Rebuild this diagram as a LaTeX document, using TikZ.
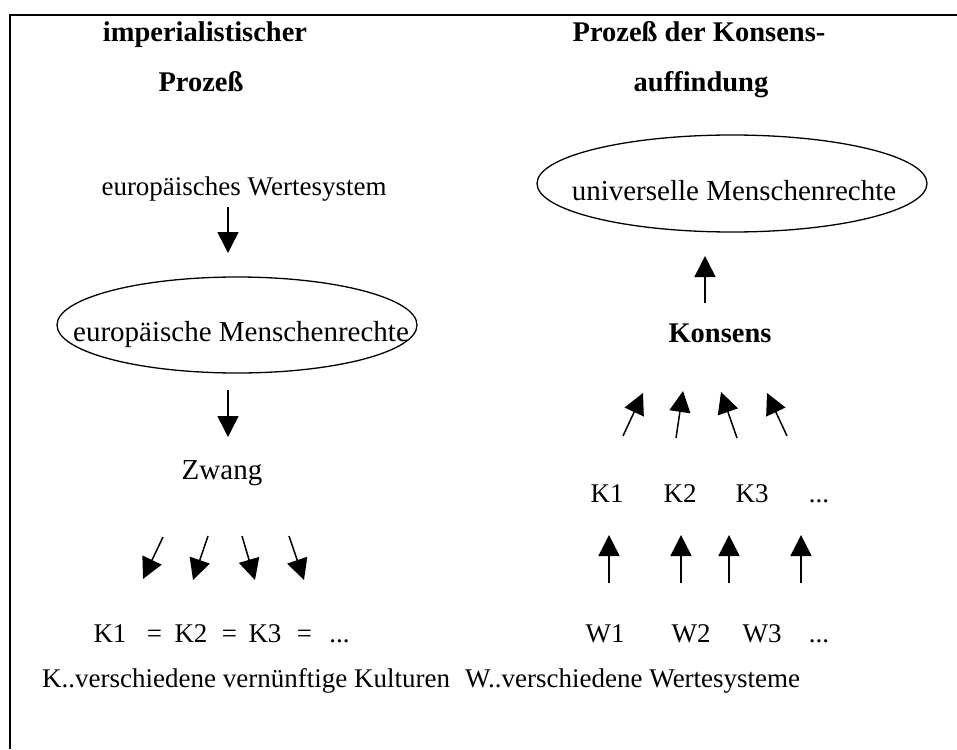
\documentclass[tikz,border=0pt]{standalone}
\usepackage{fontspec}
\setmainfont{Liberation Serif}
\usetikzlibrary{arrows.meta,shapes.geometric}
\newcommand{\dreiPkt}{...}

\begin{document}
\begin{tikzpicture}[x=1pt, y=-1pt, >={Triangle[length=21pt,width=21pt]},
    pfeil/.style={->, line width=1.5pt},
    txt/.style={anchor=base, inner sep=0pt, font=\fontsize{27}{32}\selectfont},
    gross/.style={anchor=base, inner sep=0pt, font=\fontsize{29}{34}\selectfont},
    titel/.style={anchor=base, inner sep=0pt, font=\fontsize{28.5}{34}\selectfont\bfseries},
    oval/.style={draw, ellipse, line width=1.3pt, inner sep=0pt}]
    \useasboundingbox (0,0) rectangle (957,749);
    % Rahmen
    \draw[line width=2pt] (957,15) -- (10,15) -- (10,749);

    % linke Seite: imperialistischer Prozess
    \node[titel] (impA) at (205,42) {imperialistischer};
    \node[titel] (impB) at (201,92) {Prozeß};
    \node[txt] (euWS) at (244,195) {europäisches Wertesystem};
    \node[oval, minimum width=360pt, minimum height=96pt] (euOval) at (237,325) {};
    \node[gross] (euMR) at (241,341) {europäische Menschenrechte};
    \node[gross] (zwang) at (222,479) {Zwang};
    \coordinate (wsA) at (228,207); \coordinate (wsB) at (228,253);
    \coordinate (mrA) at (228,390); \coordinate (mrB) at (228,437);
    \draw[pfeil] (wsA) -- (wsB);
    \draw[pfeil] (mrA) -- (mrB);
    \foreach \i/\xa/\ya/\xb/\yb in {1/163/537/143/579, 2/208/536/193/580,
                                    3/242/536/255/580, 4/289/536/304/580} {
        \coordinate (zwA\i) at (\xa,\ya);
        \coordinate (zwB\i) at (\xb,\yb);
        \draw[pfeil] (zwA\i) -- (zwB\i);
    }
    \foreach \name/\px/\lab in {kuA/110/K1, eqA/154.5/=, kuB/191/K2, eqB/229.5/=,
                               kuC/265/K3, eqC/304.5/=, kuD/339.5/\dreiPkt} {
        \node[txt] (\name) at (\px,642) {\lab};
    }
    \node[txt, anchor=base west] (legK) at (42,687) {K..verschiedene vernünftige Kulturen};

    % rechte Seite: Konsensauffindung
    \node[titel] (konA) at (699,42) {Prozeß der Konsens-};
    \node[titel] (konB) at (701,92) {auffindung};
    \node[oval, minimum width=390pt, minimum height=97pt] (uniOval) at (732,183.5) {};
    \node[gross] (uniMR) at (734,200) {universelle Menschenrechte};
    \node[titel] (konsens) at (720,342) {Konsens};
    \coordinate (koA) at (705,303); \coordinate (koB) at (705,256);
    \draw[pfeil] (koA) -- (koB);
    \foreach \i/\xa/\ya/\xb/\yb in {1/623/436/643/393, 2/676/438/683/391,
                                    3/737/438/721/392, 4/787/436/767/393} {
        \coordinate (kkA\i) at (\xa,\ya);
        \coordinate (kkB\i) at (\xb,\yb);
        \draw[pfeil] (kkA\i) -- (kkB\i);
    }
    \foreach \name/\px/\lab in {krA/607/K1, krB/680/K2, krC/752/K3, krD/819/\dreiPkt} {
        \node[txt] (\name) at (\px,502) {\lab};
    }
    \foreach \i/\px in {1/609, 2/681, 3/729, 4/801} {
        \coordinate (wsU\i) at (\px,583);
        \coordinate (wsO\i) at (\px,535);
        \draw[pfeil] (wsU\i) -- (wsO\i);
    }
    \foreach \name/\px/\lab in {wA/605/W1, wB/691/W2, wC/762/W3, wD/819/\dreiPkt} {
        \node[txt] (\name) at (\px,642) {\lab};
    }
    \node[txt, anchor=base west] (legW) at (465,687) {W..verschiedene Wertesysteme};
\end{tikzpicture}
\end{document}
